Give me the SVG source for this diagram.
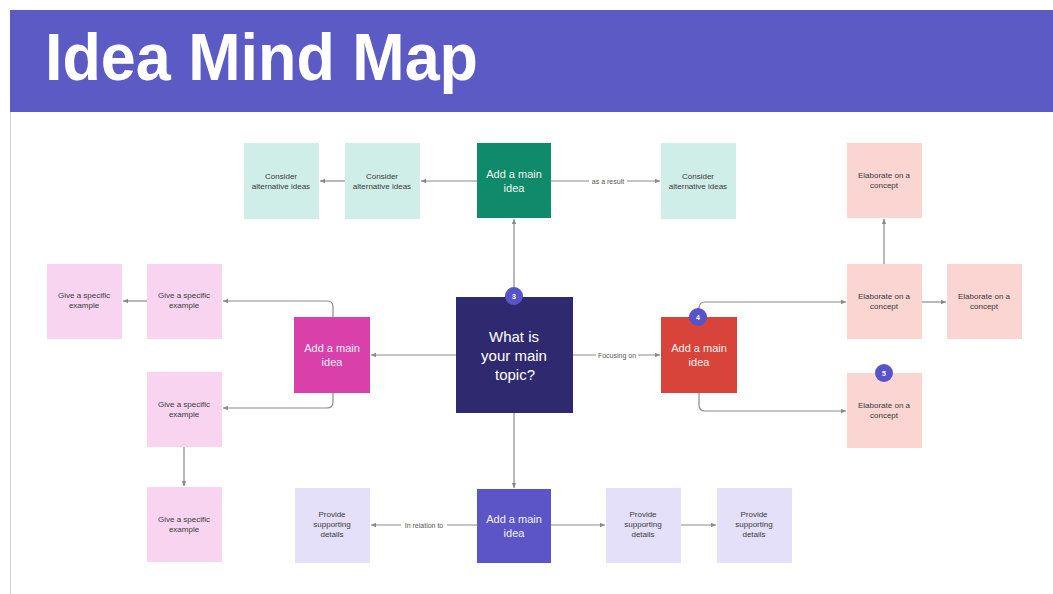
<svg xmlns="http://www.w3.org/2000/svg" width="1053" height="594" viewBox="0 0 1053 594">
<defs>
<marker id="ah" viewBox="0 0 6 6" refX="5" refY="3" markerWidth="6" markerHeight="6" orient="auto" markerUnits="userSpaceOnUse">
<path d="M0,0.8 L5,3 L0,5.2 z" fill="#8a8a8a"/>
</marker>
<style>
.t{font-family:"Liberation Sans",Arial,sans-serif;text-anchor:middle}
.s{font-size:8px;fill:#3a3a3a}
.m{font-size:11px;fill:#f2f2f2}
.c{font-size:15px;fill:#ffffff}
.lbl{font-family:"Liberation Sans",Arial,sans-serif;font-size:7px;fill:#555;text-anchor:middle}
.ln{fill:none;stroke:#8a8a8a;stroke-width:1.2;marker-end:url(#ah)}
.cy{fill:#CFEEE7}
.pk{fill:#F8D4F1}
.sa{fill:#FAD5D1}
.lv{fill:#E4E0FA}
.bd{fill:#5753C9}
.bt{font-family:"Liberation Sans",Arial,sans-serif;font-size:7px;fill:#fff;text-anchor:middle;font-weight:bold}
</style>
</defs>
<rect x="0" y="0" width="1053" height="594" fill="#ffffff"/>
<g id="header">
<rect x="10" y="10" width="1043" height="102" fill="#5C5BC6"/>
<line x1="10.5" y1="112" x2="10.5" y2="594" stroke="#d0d0d0" stroke-width="1"/>
<text x="45" y="80" font-family="'Liberation Sans',Arial,sans-serif" font-weight="bold" font-size="66" fill="#ffffff" textLength="433" lengthAdjust="spacingAndGlyphs">Idea Mind Map</text>
</g>
<g id="connectors">
<path class="ln" d="M514,297 V219"/>
<path class="ln" d="M477,181 H421"/>
<path class="ln" d="M345,181 H320"/>
<path class="ln" d="M551,181 H660"/>
<path class="ln" d="M456,355 H371"/>
<path class="ln" d="M333,317 V307 Q333,301 327,301 H223"/>
<path class="ln" d="M333,393 V402 Q333,408 327,408 H223"/>
<path class="ln" d="M147,301 H123"/>
<path class="ln" d="M184,447 V486"/>
<path class="ln" d="M573,355 H660"/>
<path class="ln" d="M699,317 V308 Q699,302 705,302 H846"/>
<path class="ln" d="M699,393 V405 Q699,411 705,411 H846"/>
<path class="ln" d="M884,264 V219"/>
<path class="ln" d="M922,302 H946"/>
<path class="ln" d="M514,413 V488"/>
<path class="ln" d="M477,525 H371"/>
<path class="ln" d="M551,525 H605"/>
<path class="ln" d="M681,525 H716"/>
<rect x="589" y="176" width="38" height="10" fill="#fff"/>
<text class="lbl" x="608" y="184">as a result</text>
<rect x="596" y="350" width="42" height="10" fill="#fff"/>
<text class="lbl" x="617" y="358">Focusing on</text>
<rect x="401" y="520" width="46" height="10" fill="#fff"/>
<text class="lbl" x="424" y="528">In relation to</text>
</g>
<g id="center">
<rect x="456" y="297" width="117" height="116" fill="#2F2A6F"/>
<text class="t c" x="514" y="342">What is</text>
<text class="t c" x="514" y="361">your main</text>
<text class="t c" x="515" y="380">topic?</text>
<circle class="bd" cx="514" cy="296" r="9"/>
<text class="bt" x="514" y="299">3</text>
</g>
<g id="main-green">
<rect x="477" y="143" width="74" height="75" fill="#0F8A6A"/>
<text class="t m" x="514" y="178">Add a main</text>
<text class="t m" x="514" y="192">idea</text>
</g>
<g id="consider-a">
<rect class="cy" x="244" y="143" width="75" height="76"/>
<text class="t s" x="281" y="179">Consider</text>
<text class="t s" x="281" y="189">alternative ideas</text>
</g>
<g id="consider-b">
<rect class="cy" x="345" y="143" width="75" height="76"/>
<text class="t s" x="382" y="179">Consider</text>
<text class="t s" x="382" y="189">alternative ideas</text>
</g>
<g id="consider-c">
<rect class="cy" x="661" y="143" width="75" height="76"/>
<text class="t s" x="698" y="179">Consider</text>
<text class="t s" x="698" y="189">alternative ideas</text>
</g>
<g id="main-magenta">
<rect x="294" y="317" width="76" height="76" fill="#D940A9"/>
<text class="t m" x="332" y="352">Add a main</text>
<text class="t m" x="332" y="366">idea</text>
</g>
<g id="example-1">
<rect class="pk" x="47" y="264" width="75" height="75"/>
<text class="t s" x="84" y="298">Give a specific</text>
<text class="t s" x="84" y="308">example</text>
</g>
<g id="example-2">
<rect class="pk" x="147" y="264" width="75" height="75"/>
<text class="t s" x="184" y="298">Give a specific</text>
<text class="t s" x="184" y="308">example</text>
</g>
<g id="example-3">
<rect class="pk" x="147" y="372" width="75" height="75"/>
<text class="t s" x="184" y="407">Give a specific</text>
<text class="t s" x="184" y="417">example</text>
</g>
<g id="example-4">
<rect class="pk" x="147" y="487" width="75" height="75"/>
<text class="t s" x="184" y="522">Give a specific</text>
<text class="t s" x="184" y="532">example</text>
</g>
<g id="main-red">
<rect x="661" y="317" width="76" height="76" fill="#D9443A"/>
<text class="t m" x="699" y="352">Add a main</text>
<text class="t m" x="699" y="366">idea</text>
<circle class="bd" cx="698" cy="317" r="9"/>
<text class="bt" x="698" y="320">4</text>
</g>
<g id="concept-top">
<rect class="sa" x="847" y="143" width="75" height="75"/>
<text class="t s" x="884" y="178">Elaborate on a</text>
<text class="t s" x="884" y="188">concept</text>
</g>
<g id="concept-mid">
<rect class="sa" x="847" y="264" width="75" height="75"/>
<text class="t s" x="884" y="299">Elaborate on a</text>
<text class="t s" x="884" y="309">concept</text>
</g>
<g id="concept-right">
<rect class="sa" x="947" y="264" width="75" height="75"/>
<text class="t s" x="984" y="299">Elaborate on a</text>
<text class="t s" x="984" y="309">concept</text>
</g>
<g id="concept-bottom">
<rect class="sa" x="847" y="373" width="75" height="75"/>
<text class="t s" x="884" y="408">Elaborate on a</text>
<text class="t s" x="884" y="418">concept</text>
<circle class="bd" cx="884" cy="373" r="9"/>
<text class="bt" x="884" y="376">5</text>
</g>
<g id="main-purple">
<rect x="477" y="489" width="74" height="74" fill="#5B55C8"/>
<text class="t m" x="514" y="523">Add a main</text>
<text class="t m" x="514" y="537">idea</text>
</g>
<g id="details-1">
<rect class="lv" x="295" y="488" width="75" height="75"/>
<text class="t s" x="332" y="517">Provide</text>
<text class="t s" x="332" y="527">supporting</text>
<text class="t s" x="332" y="537">details</text>
</g>
<g id="details-2">
<rect class="lv" x="606" y="488" width="75" height="75"/>
<text class="t s" x="643" y="517">Provide</text>
<text class="t s" x="643" y="527">supporting</text>
<text class="t s" x="643" y="537">details</text>
</g>
<g id="details-3">
<rect class="lv" x="717" y="488" width="75" height="75"/>
<text class="t s" x="754" y="517">Provide</text>
<text class="t s" x="754" y="527">supporting</text>
<text class="t s" x="754" y="537">details</text>
</g>
</svg>
